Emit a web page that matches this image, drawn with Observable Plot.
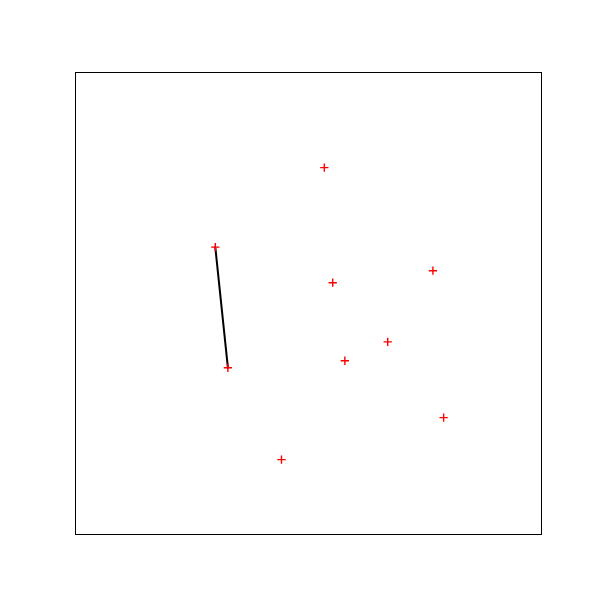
<!DOCTYPE html>
<html>
<head>
<meta charset="utf-8">
<script src="https://cdn.jsdelivr.net/npm/d3@7"></script>
<script src="https://cdn.jsdelivr.net/npm/@observablehq/plot@0.6"></script>
<style>
  html, body { margin: 0; padding: 0; background: #fff; }
</style>
</head>
<body>
<div id="chart"></div>
<script>
// Scatter points (data coordinates, axes range 0..1)
const pointX = [0.534, 0.300, 0.767, 0.552, 0.670, 0.578, 0.327, 0.790, 0.442];
const pointY = [0.794, 0.622, 0.571, 0.545, 0.417, 0.376, 0.361, 0.253, 0.162];
// Line segment connecting two of the points
const lineX = [0.300, 0.327];
const lineY = [0.622, 0.361];

const points = pointX.map((x, i) => ({x, y: pointY[i]}));
const segment = lineX.map((x, i) => ({x, y: lineY[i]}));

const chart = Plot.plot({
  width: 600,
  height: 600,
  marginLeft: 75,
  marginRight: 59,
  marginTop: 72,
  marginBottom: 66,
  x: {domain: [0, 1], axis: null},
  y: {domain: [0, 1], axis: null},
  marks: [
    Plot.frame({stroke: "black", strokeWidth: 1}),
    Plot.line(segment, {x: "x", y: "y", stroke: "black", strokeWidth: 2}),
    Plot.dot(points, {x: "x", y: "y", symbol: "plus", r: 2.8, stroke: "red", strokeWidth: 1.4})
  ]
});
document.getElementById("chart").appendChild(chart);
</script>
</body>
</html>
